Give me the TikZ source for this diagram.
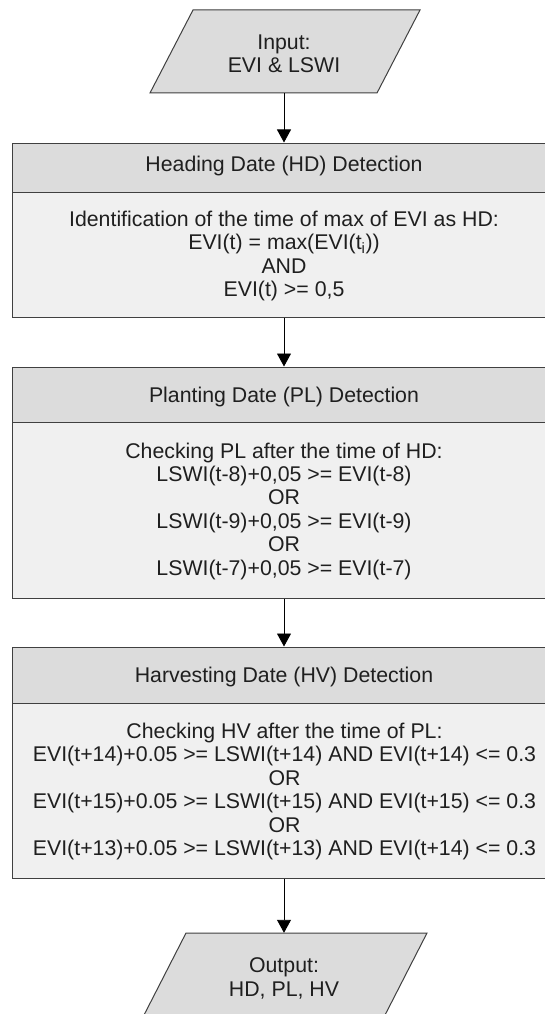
\documentclass[tikz,border=0pt]{standalone}
\usepackage{fontspec}
\setmainfont{Liberation Sans}
\usetikzlibrary{arrows.meta}
\definecolor{hdrfill}{HTML}{DCDCDC}
\definecolor{bodyfill}{HTML}{F0F0F0}
\definecolor{edgecol}{HTML}{404040}
\begin{document}
\begin{tikzpicture}[x=1pt,y=-1pt,
  txt/.style={font=\fontsize{21.3}{23.4}\selectfont, align=center, inner sep=0pt, text=black!88},
  hdr/.style={fill=hdrfill, draw=edgecol, line width=1pt, inner sep=0pt},
  bdy/.style={fill=bodyfill, draw=edgecol, line width=1pt, inner sep=0pt},
  para/.style={fill=hdrfill, draw=edgecol, line width=1pt},
  flow/.style={-{Triangle[width=14pt,length=13pt]}, line width=0.9pt, black}]
\useasboundingbox (0,0) rectangle (545,1014);
\clip (0,0) rectangle (545,1014);
\fill[white] (0,0) rectangle (545,1014);

% Input
\draw[para] (150,93) -- (193,10) -- (420,10) -- (377,93) -- cycle;
\node[txt, minimum height=83pt] (in) at (284,51.5) {};
\node[txt] (intext) at (284,53.5) {Input:\\EVI \& LSWI};

% HD
\node[hdr, minimum width=544pt, minimum height=49pt] (hdh) at (284,167.5) {};
\node[txt] (hdht) at (284,165.5) {Heading Date (HD) Detection};
\node[bdy, minimum width=544pt, minimum height=125pt] (hdb) at (284,254.5) {};
\node[txt] (hdbt) at (284,256) {Identification of the time of max of EVI as HD:\\
  EVI(t) = max(EVI(t\textsubscript{i}))\\ AND\\ EVI(t) >= 0,5};

% PL
\node[hdr, minimum width=544pt, minimum height=55pt] (plh) at (284,394.5) {};
\node[txt] (plht) at (284,397) {Planting Date (PL) Detection};
\node[bdy, minimum width=544pt, minimum height=176pt] (plb) at (284,510) {};
\node[txt] (plbt) at (284,511) {Checking PL after the time of HD:\\
  LSWI(t-8)+0,05 >= EVI(t-8)\\ OR\\ LSWI(t-9)+0,05 >= EVI(t-9)\\ OR\\
  LSWI(t-7)+0,05 >= EVI(t-7)};

% HV
\node[hdr, minimum width=544pt, minimum height=56pt] (hvh) at (284,675) {};
\node[txt] (hvht) at (284,677) {Harvesting Date (HV) Detection};
\node[bdy, minimum width=544pt, minimum height=175pt] (hvb) at (284,790.5) {};
\node[txt] (hvbt) at (284.5,791.5) {Checking HV after the time of PL:\\
  EVI(t+14)+0.05 >= LSWI(t+14) AND EVI(t+14) <= 0.3\\ OR\\
  EVI(t+15)+0.05 >= LSWI(t+15) AND EVI(t+15) <= 0.3\\ OR\\
  EVI(t+13)+0.05 >= LSWI(t+13) AND EVI(t+14) <= 0.3};

% Output
\draw[para] (186,933) -- (427,933) -- (384,1017) -- (143,1017) -- cycle;
\node[txt, minimum height=84pt] (out) at (284,975) {};
\node[txt] (outtext) at (284,978.5) {Output:\\HD, PL, HV};

% connectors
\draw[flow] (in.south) -- (hdh.north);
\draw[flow] (hdb.south) -- (plh.north);
\draw[flow] (plb.south) -- (hvh.north);
\draw[flow] (hvb.south) -- (out.north);
\end{tikzpicture}
\end{document}
